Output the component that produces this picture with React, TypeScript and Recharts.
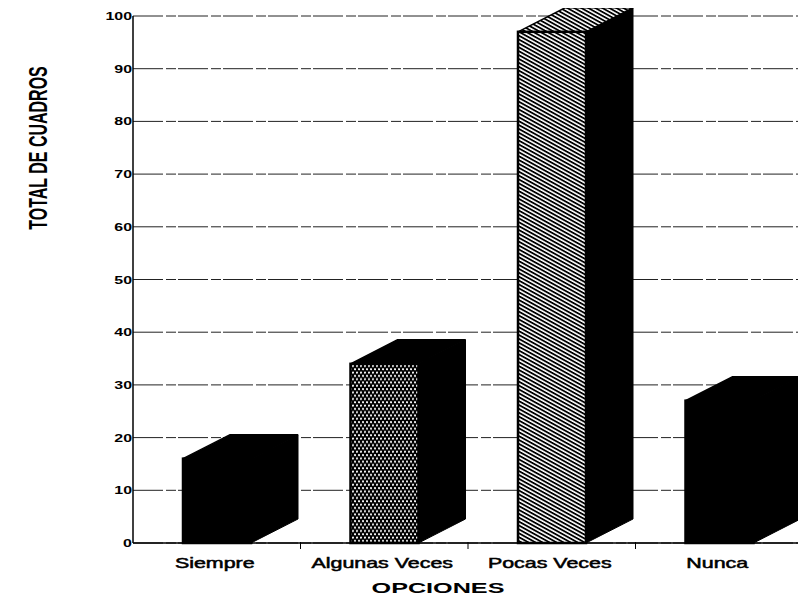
import { BarChart, Bar, XAxis, YAxis, CartesianGrid } from "recharts";

const CATEGORIAS = ["Siempre", "Algunas Veces", "Pocas Veces", "Nunca"];
const TOTALES = [16, 34, 97, 27];
const TICKS_Y = [0, 10, 20, 30, 40, 50, 60, 70, 80, 90, 100];

// relleno de la cara frontal de cada barra
const RELLENOS: { [k: string]: string } = {
  Siempre: "negro",
  "Algunas Veces": "puntos",
  "Pocas Veces": "rayas",
  Nunca: "negro",
};

const ANCHO = 798;
const ALTO = 590;
const MARGEN_IZQ = 125;
const MARGEN_DER = 3;
const BANDA = (ANCHO - MARGEN_IZQ - MARGEN_DER) / CATEGORIAS.length;
const PROF_X = 47;
const PROF_Y = 24;
const FUENTE = "Liberation Sans, Arial, sans-serif";

const datos = CATEGORIAS.map((c, i) => ({ opcion: c, total: TOTALES[i] }));

const Barra3D = (props: any) => {
  const { x, y, width, height, payload, index } = props;
  const tipo = RELLENOS[payload.opcion];
  const idP = `puntos-${index}`;
  const idR = `rayas-${index}`;
  const frente = tipo === "puntos" ? `url(#${idP})` : tipo === "rayas" ? `url(#${idR})` : "#000";
  const arriba = tipo === "rayas" ? `url(#${idR})` : "#000";
  const x2 = x + width;
  const y2 = y + height;
  return (
    <g>
      <defs>
        <pattern id={idP} width={4} height={6.6} patternUnits="userSpaceOnUse">
          <rect width={4} height={6.6} fill="#000" />
          <circle cx={1} cy={1.6} r={1.05} fill="#fff" />
          <circle cx={3} cy={4.9} r={1.05} fill="#fff" />
        </pattern>
        <pattern id={idR} width={10} height={3.4} patternUnits="userSpaceOnUse" patternTransform="rotate(29)">
          <rect width={10} height={3.4} fill="#fff" />
          <rect width={10} height={1.8} fill="#000" />
        </pattern>
      </defs>
      <polygon
        points={`${x2},${y} ${x2 + PROF_X},${y - PROF_Y} ${x2 + PROF_X},${y2 - PROF_Y} ${x2},${y2}`}
        fill="#000"
        stroke="#000"
      />
      <polygon
        points={`${x},${y} ${x + PROF_X},${y - PROF_Y} ${x2 + PROF_X},${y - PROF_Y} ${x2},${y}`}
        fill={arriba}
        stroke="#000"
        strokeWidth={1.5}
      />
      <rect x={x} y={y} width={width} height={height} fill={frente} stroke="#000" strokeWidth={2.5} />
    </g>
  );
};

const TickX = (props: any) => {
  const { x, y, payload } = props;
  return (
    <g>
      <line x1={x + BANDA / 2} y1={y - 1} x2={x + BANDA / 2} y2={y + 6} stroke="#000" />
      <text
        transform={`translate(${x - 2},${y + 25}) scale(1.53,1)`}
        textAnchor="middle"
        fontFamily={FUENTE}
        fontSize={14}
        fill="#000"
        stroke="#000"
        strokeWidth={0.5}
      >
        {payload.value}
      </text>
    </g>
  );
};

const TickY = (props: any) => {
  const { x, y, payload } = props;
  return (
    <text
      transform={`translate(${x},${y + 4}) scale(1.45,1)`}
      textAnchor="end"
      fontFamily={FUENTE}
      fontWeight="bold"
      fontSize={11}
      fill="#000"
    >
      {payload.value}
    </text>
  );
};

const TituloY = () => (
  <text
    transform={`translate(39,140) scale(1.65,1) rotate(-90)`}
    textAnchor="middle"
    fontFamily={FUENTE}
    fontWeight="bold"
    fontSize={16}
    fill="#000"
  >
    TOTAL DE CUADROS
  </text>
);

const TituloX = () => (
  <text
    transform={`translate(430,585) scale(1.68,1)`}
    textAnchor="middle"
    fontFamily={FUENTE}
    fontWeight="bold"
    fontSize={15}
    fill="#000"
  >
    OPCIONES
  </text>
);

export default function App() {
  return (
    <div style={{ width: ANCHO, height: ALTO, background: "#fff" }}>
      <BarChart
        width={ANCHO}
        height={ALTO}
        data={datos}
        margin={{ top: 8, right: MARGEN_DER, left: 0, bottom: 0 }}
        barSize={68}
      >
        <CartesianGrid vertical={false} stroke="#222" strokeDasharray="30 3 10 2" />
        <XAxis
          dataKey="opcion"
          height={55}
          axisLine={{ stroke: "#000", strokeWidth: 1.5 }}
          tickLine={false}
          tickSize={0}
          tickMargin={0}
          tick={<TickX />}
          interval={0}
          label={{ content: () => <TituloX /> }}
        />
        <YAxis
          width={MARGEN_IZQ}
          domain={[0, 100]}
          ticks={TICKS_Y}
          interval={0}
          axisLine={{ stroke: "#000", strokeWidth: 1.5 }}
          tickLine={false}
          tickSize={0}
          tickMargin={1}
          tick={<TickY />}
          label={{ content: () => <TituloY /> }}
        />
        <Bar dataKey="total" shape={<Barra3D />} isAnimationActive={false} />
      </BarChart>
    </div>
  );
}
